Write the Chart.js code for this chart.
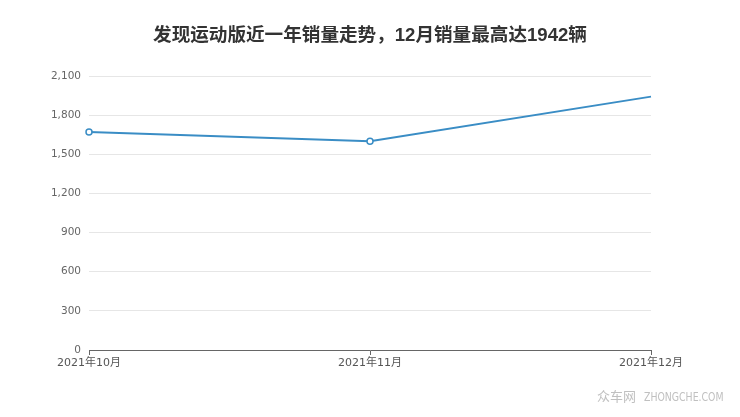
<!DOCTYPE html>
<html>
<head>
<meta charset="utf-8">
<script src="https://cdn.jsdelivr.net/npm/chart.js@4/dist/chart.umd.min.js"></script>
<style>
  html, body { margin: 0; padding: 0; background: #fff; }
  #wrap { position: relative; width: 740px; height: 417px; }
  #title {
    position: absolute; left: 0; top: 19px; width: 740px; text-align: center;
    font: bold 18.6px "Liberation Sans", "Noto Sans CJK SC", sans-serif; color: #333;
    white-space: nowrap;
  }
  #mark {
    position: absolute; left: 597px; top: 386px; white-space: nowrap; color: #c0c0c0;
  }
  #mark .cn { font: 13px "Noto Sans CJK SC", sans-serif; }
  #mark .en {
    display: inline-block; font: 13px "DejaVu Sans Condensed", "DejaVu Sans", sans-serif;
    margin-left: 8px; transform: scaleX(0.8); transform-origin: left center;
  }
</style>
</head>
<body>
<div id="wrap">
  <canvas id="chart" width="740" height="417"></canvas>
  <div id="title">发现运动版近一年销量走势，12月销量最高达1942辆</div>
  <div id="mark"><span class="cn">众车网</span><span class="en">ZHONGCHE.COM</span></div>
</div>
<script>
  const months = ['2021年10月', '2021年11月', '2021年12月'];
  const sales = [1670, 1600, 1942];
  const pointSizes = [3, 3, 0];
  const yMax = 2100;
  const yStep = 300;

  const fontFamily = '"DejaVu Sans", "Noto Sans CJK SC", sans-serif';

  new Chart(document.getElementById('chart'), {
    type: 'line',
    data: {
      labels: months,
      datasets: [{
        data: sales,
        borderColor: '#3a8dc5',
        borderWidth: 2,
        backgroundColor: '#fff',
        pointBackgroundColor: '#fff',
        pointBorderColor: '#3a8dc5',
        pointBorderWidth: 1.5,
        pointRadius: pointSizes,
        tension: 0
      }]
    },
    options: {
      responsive: false,
      animation: false,
      layout: { padding: { top: 76, right: 89, bottom: 0, left: 0 } },
      plugins: { legend: { display: false }, title: { display: false }, tooltip: { enabled: false } },
      scales: {
        x: {
          offset: false,
          afterFit: (scale) => { scale.height = 67; },
          border: { color: '#666', width: 1 },
          grid: { drawOnChartArea: false, drawTicks: true, tickLength: 5, color: '#666' },
          ticks: { color: '#555', padding: 2, maxRotation: 0, font: { family: fontFamily, size: 11 } }
        },
        y: {
          min: 0,
          max: yMax,
          afterFit: (scale) => { scale.width = 89; },
          border: { display: false },
          grid: { color: '#e6e6e6', drawTicks: false },
          ticks: { stepSize: yStep, color: '#666', padding: 8, font: { family: fontFamily, size: 10.5 } }
        }
      }
    }
  });
</script>
</body>
</html>
